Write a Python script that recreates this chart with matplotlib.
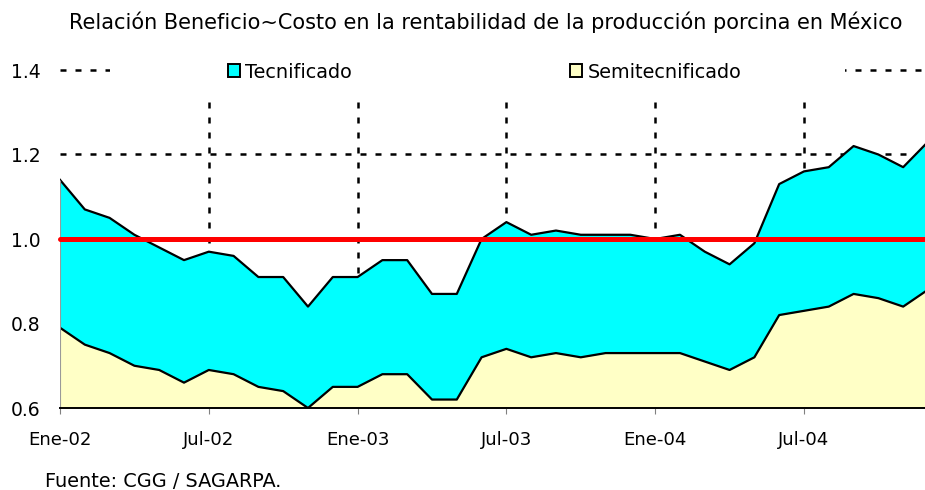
import numpy as np
import matplotlib
matplotlib.use("Agg")
import matplotlib.pyplot as plt
from matplotlib.patches import Patch, Rectangle

# monthly data, Ene-02 .. Dic-04
tecnificado = [1.14, 1.07, 1.05, 1.01, 0.98, 0.95, 0.97, 0.96, 0.91, 0.91, 0.84, 0.91,
               0.91, 0.95, 0.95, 0.87, 0.87, 1.00, 1.04, 1.01, 1.02, 1.01, 1.01, 1.01,
               1.00, 1.01, 0.97, 0.94, 0.99, 1.13, 1.16, 1.17, 1.22, 1.20, 1.17, 1.23]
semitecnificado = [0.79, 0.75, 0.73, 0.70, 0.69, 0.66, 0.69, 0.68, 0.65, 0.64, 0.60, 0.65,
                   0.65, 0.68, 0.68, 0.62, 0.62, 0.72, 0.74, 0.72, 0.73, 0.72, 0.73, 0.73,
                   0.73, 0.73, 0.71, 0.69, 0.72, 0.82, 0.83, 0.84, 0.87, 0.86, 0.84, 0.88]
tick_pos = [0, 6, 12, 18, 24, 30]
tick_labels = ['Ene-02', 'Jul-02', 'Ene-03', 'Jul-03', 'Ene-04', 'Jul-04']
yticks = [0.6, 0.8, 1.0, 1.2, 1.4]
referencia = 1.0

plt.rcParams['font.family'] = ['DejaVu Sans']

fig = plt.figure(figsize=(9.25, 4.9), dpi=100)
W, H = 925, 490
ax = fig.add_axes([60 / W, 82 / H, 865 / W, 338 / H])

x = np.arange(len(tecnificado))

# dashed grid (behind the areas)
for yv in yticks[2:]:
    if yv != referencia:
        ax.axhline(yv, color='black', lw=1.8, dashes=(2.4, 3.6), zorder=1, clip_on=False)
for xv in tick_pos[1:]:
    ax.axvline(xv, color='black', lw=1.8, dashes=(2.4, 3.6), zorder=1, clip_on=False)

ax.fill_between(x, 0, tecnificado, color='#00FFFF', zorder=2, lw=0)
ax.fill_between(x, 0, semitecnificado, color='#FFFFC6', zorder=3, lw=0)
ax.plot(x, tecnificado, color='black', lw=1.6, zorder=4)
ax.plot(x, semitecnificado, color='black', lw=1.6, zorder=4)
ax.vlines(x[0], yticks[0], tecnificado[0], color='#999999', lw=0.8, zorder=4)

ax.axhline(referencia, color='#FF0000', lw=3.6, zorder=6, solid_capstyle='round', clip_on=False)

ax.set_xlim(0, 34.88)
ax.set_ylim(0.6, 1.4)

ax.set_xticks(tick_pos)
ax.set_xticklabels(tick_labels, fontsize=13.1)
ax.set_yticks(yticks)
ax.set_yticklabels(['%.1f' % v for v in yticks], fontsize=13.5)
ax.tick_params(axis='x', length=4.5, width=0.8, color='#808080', pad=12)
ax.tick_params(axis='y', length=0, pad=13.8)

for s in ['top', 'right', 'left']:
    ax.spines[s].set_visible(False)
ax.spines['bottom'].set_color('black')
ax.spines['bottom'].set_linewidth(1.4)
ax.spines['bottom'].set_zorder(7)

# white box behind the legend
ax.add_patch(Rectangle(((110 - 60) / 865, (408 - 98) / 338), (845 - 110) / 865, 0.15,
                       transform=ax.transAxes, facecolor='white', edgecolor='none',
                       zorder=8, clip_on=False))

handles = [Patch(facecolor='#00FFFF', edgecolor='black', lw=1.4, label='Tecnificado'),
           Patch(facecolor='#FFFFC6', edgecolor='black', lw=1.4, label='Semitecnificado')]
leg = ax.legend(handles=handles, loc='center left', bbox_to_anchor=((228 - 60) / 865, (408 - 72) / 338),
                ncol=2, frameon=False, fontsize=13.9, handlelength=0.62, handleheight=0.62,
                handletextpad=0.28, columnspacing=11.3, borderpad=0, borderaxespad=0)
leg.set_zorder(9)

fig.text(486 / W, 1 - 22 / H, 'Relación Beneficio~Costo en la rentabilidad de la producción porcina en México',
         ha='center', va='center', fontsize=15.0)
fig.text(45 / W, 1 - 481 / H, 'Fuente: CGG / SAGARPA.', ha='left', va='center', fontsize=13.9)

fig.savefig('out.png', dpi=100)
